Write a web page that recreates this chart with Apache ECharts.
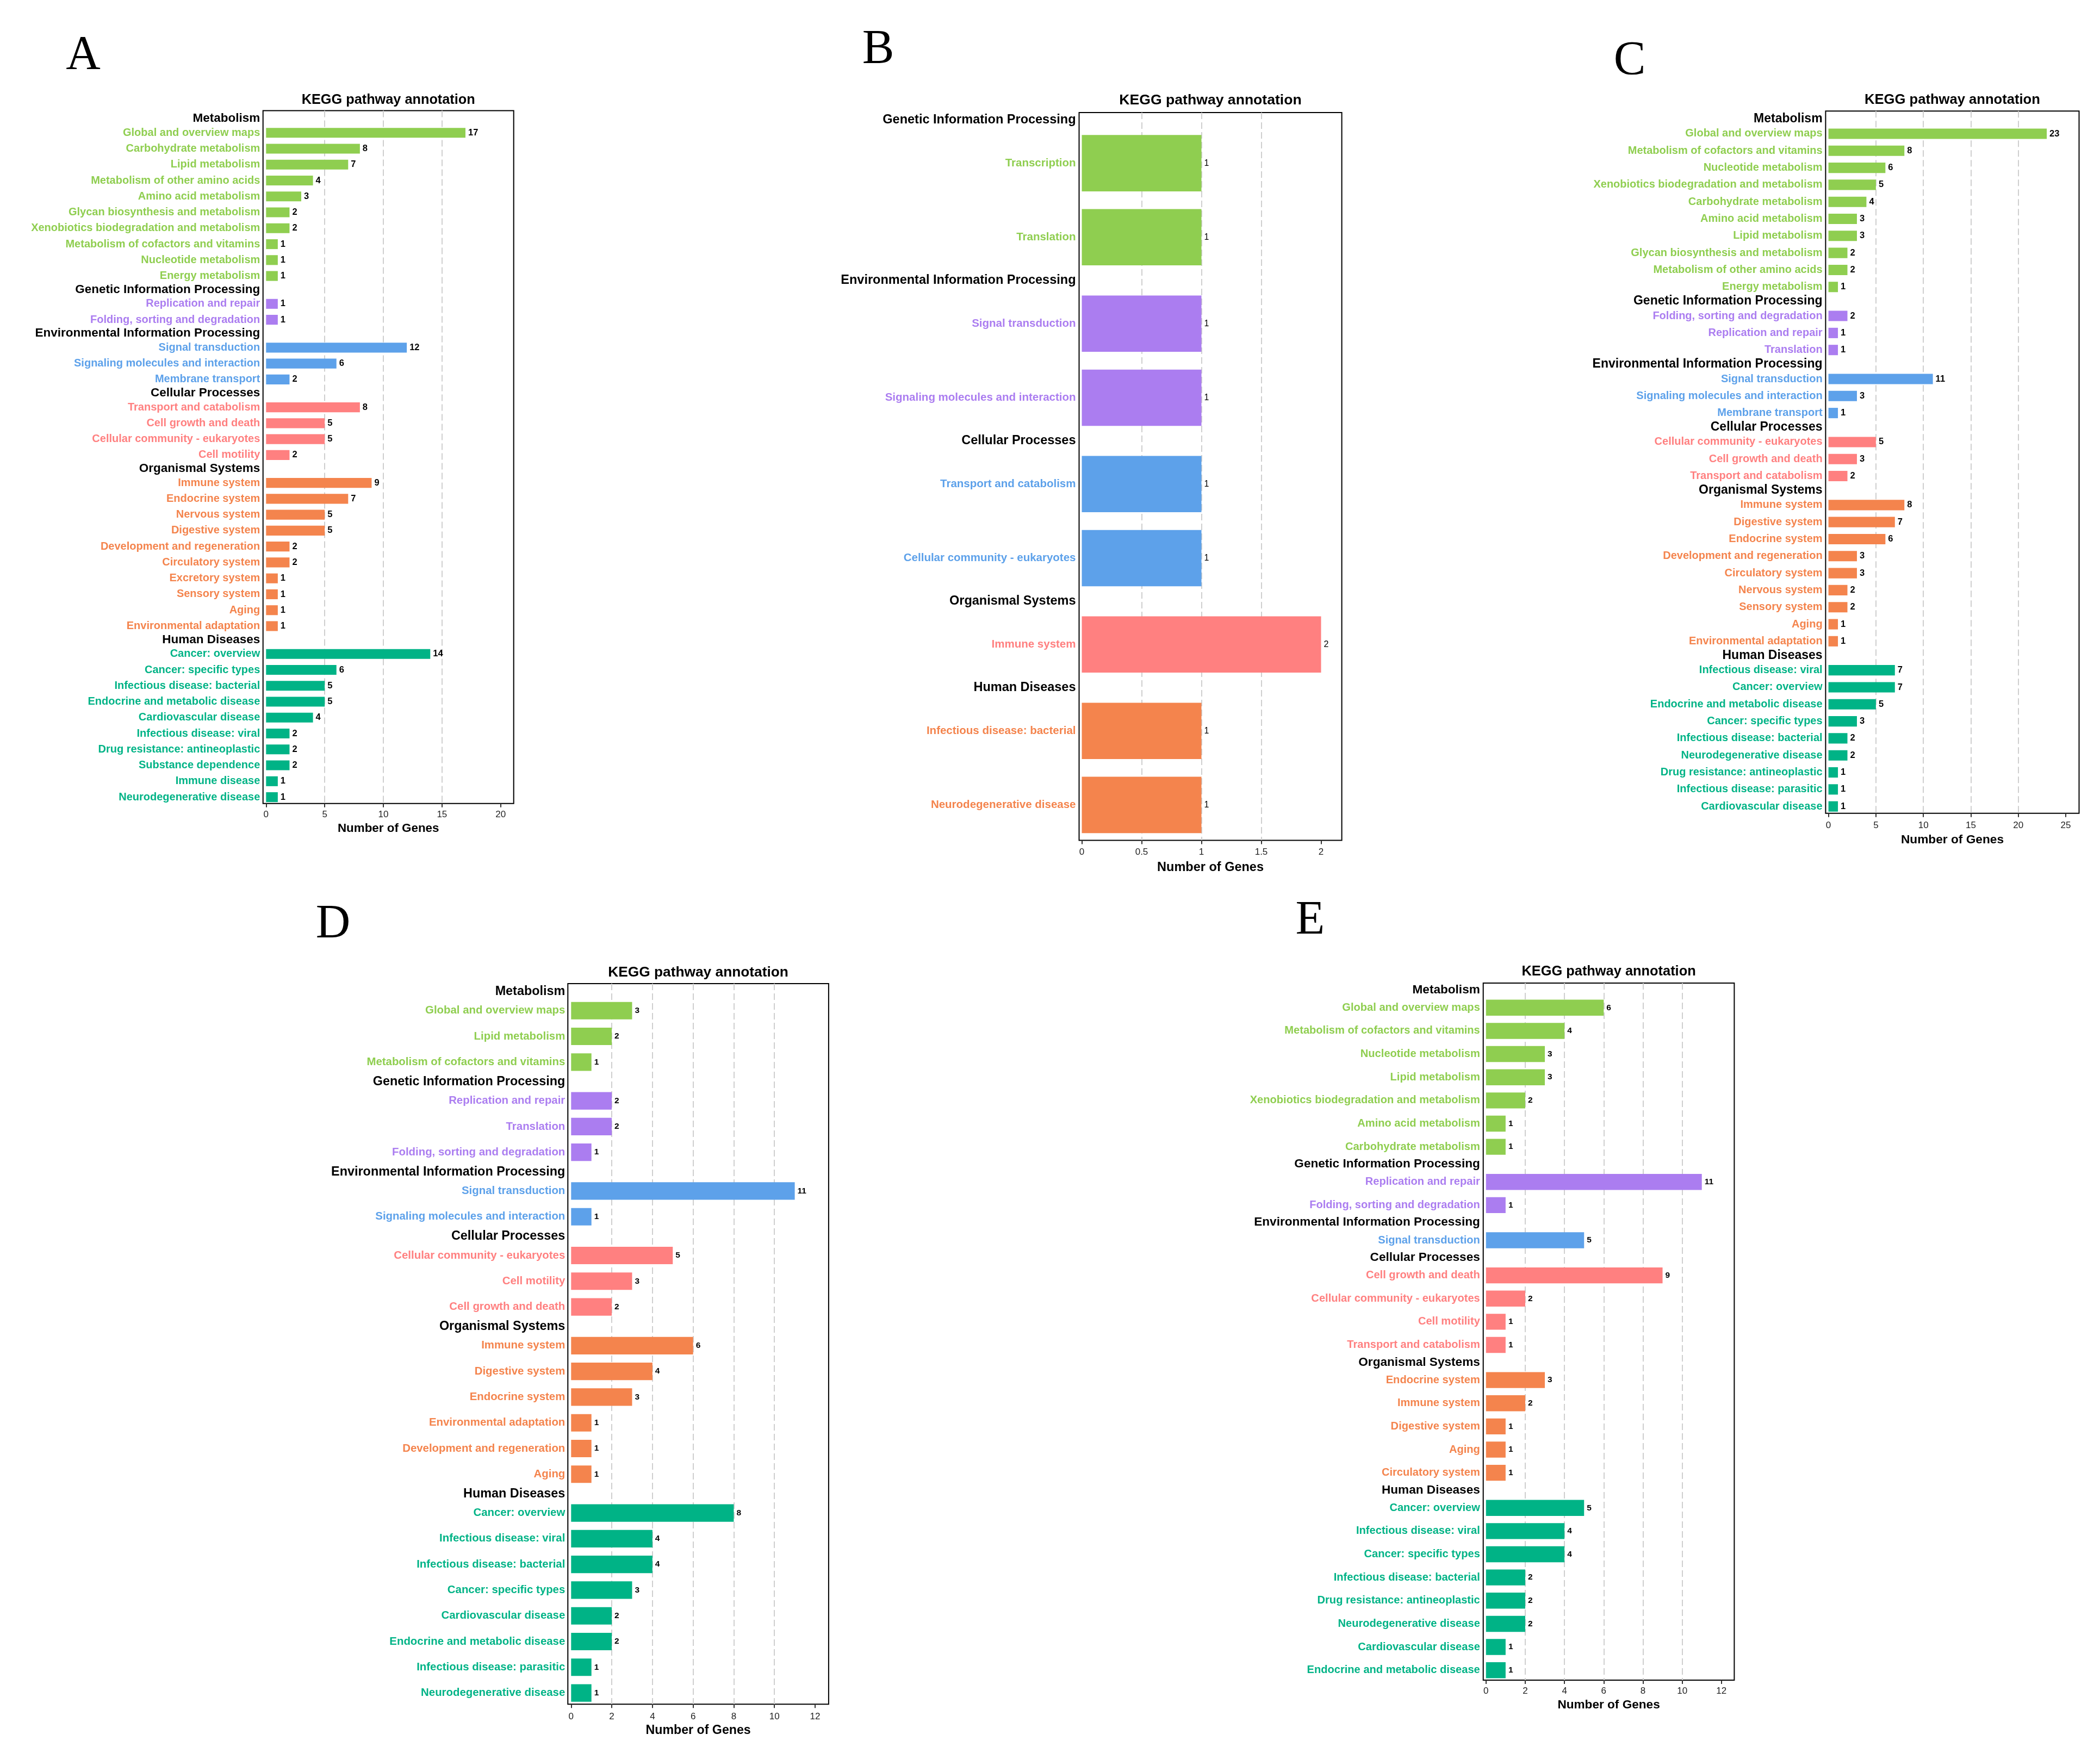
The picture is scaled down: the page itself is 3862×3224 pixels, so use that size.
<!DOCTYPE html>
<html>
<head>
<meta charset="utf-8">
<script src="https://cdn.jsdelivr.net/npm/echarts@6/dist/echarts.min.js"></script>
<style>
  html, body { margin: 0; padding: 0; background: #fff; }
  #chart { width: 3862px; height: 3224px; }
</style>
</head>
<body>
<div id="chart"></div>
<script>
var FONT = "'Liberation Sans', Arial, Helvetica, sans-serif";
var palette = ['#8fce50', '#ab7df0', '#5da1ea', '#ff8080', '#f4844d', '#00b386'];

// ---- A ----
var groupsA = ['Metabolism', 'Genetic Information Processing', 'Environmental Information Processing',
  'Cellular Processes', 'Organismal Systems', 'Human Diseases'];
var catsA = [
  ['Global and overview maps', 'Carbohydrate metabolism', 'Lipid metabolism', 'Metabolism of other amino acids',
   'Amino acid metabolism', 'Glycan biosynthesis and metabolism', 'Xenobiotics biodegradation and metabolism',
   'Metabolism of cofactors and vitamins', 'Nucleotide metabolism', 'Energy metabolism'],
  ['Replication and repair', 'Folding, sorting and degradation'],
  ['Signal transduction', 'Signaling molecules and interaction', 'Membrane transport'],
  ['Transport and catabolism', 'Cell growth and death', 'Cellular community - eukaryotes', 'Cell motility'],
  ['Immune system', 'Endocrine system', 'Nervous system', 'Digestive system', 'Development and regeneration',
   'Circulatory system', 'Excretory system', 'Sensory system', 'Aging', 'Environmental adaptation'],
  ['Cancer: overview', 'Cancer: specific types', 'Infectious disease: bacterial', 'Endocrine and metabolic disease',
   'Cardiovascular disease', 'Infectious disease: viral', 'Drug resistance: antineoplastic', 'Substance dependence',
   'Immune disease', 'Neurodegenerative disease']
];
var valsA = [[17, 8, 7, 4, 3, 2, 2, 1, 1, 1], [1, 1], [12, 6, 2], [8, 5, 5, 2],
  [9, 7, 5, 5, 2, 2, 1, 1, 1, 1], [14, 6, 5, 5, 4, 2, 2, 2, 1, 1]];
var ticksA = [0, 5, 10, 15, 20];

// ---- B ----
var groupsB = ['Genetic Information Processing', 'Environmental Information Processing', 'Cellular Processes',
  'Organismal Systems', 'Human Diseases'];
var catsB = [
  ['Transcription', 'Translation'],
  ['Signal transduction', 'Signaling molecules and interaction'],
  ['Transport and catabolism', 'Cellular community - eukaryotes'],
  ['Immune system'],
  ['Infectious disease: bacterial', 'Neurodegenerative disease']
];
var valsB = [[1, 1], [1, 1], [1, 1], [2], [1, 1]];
var ticksB = [0, 0.5, 1, 1.5, 2];

// ---- C ----
var groupsC = groupsA;
var catsC = [
  ['Global and overview maps', 'Metabolism of cofactors and vitamins', 'Nucleotide metabolism',
   'Xenobiotics biodegradation and metabolism', 'Carbohydrate metabolism', 'Amino acid metabolism',
   'Lipid metabolism', 'Glycan biosynthesis and metabolism', 'Metabolism of other amino acids', 'Energy metabolism'],
  ['Folding, sorting and degradation', 'Replication and repair', 'Translation'],
  ['Signal transduction', 'Signaling molecules and interaction', 'Membrane transport'],
  ['Cellular community - eukaryotes', 'Cell growth and death', 'Transport and catabolism'],
  ['Immune system', 'Digestive system', 'Endocrine system', 'Development and regeneration', 'Circulatory system',
   'Nervous system', 'Sensory system', 'Aging', 'Environmental adaptation'],
  ['Infectious disease: viral', 'Cancer: overview', 'Endocrine and metabolic disease', 'Cancer: specific types',
   'Infectious disease: bacterial', 'Neurodegenerative disease', 'Drug resistance: antineoplastic',
   'Infectious disease: parasitic', 'Cardiovascular disease']
];
var valsC = [[23, 8, 6, 5, 4, 3, 3, 2, 2, 1], [2, 1, 1], [11, 3, 1], [5, 3, 2],
  [8, 7, 6, 3, 3, 2, 2, 1, 1], [7, 7, 5, 3, 2, 2, 1, 1, 1]];
var ticksC = [0, 5, 10, 15, 20, 25];

// ---- D ----
var groupsD = groupsA;
var catsD = [
  ['Global and overview maps', 'Lipid metabolism', 'Metabolism of cofactors and vitamins'],
  ['Replication and repair', 'Translation', 'Folding, sorting and degradation'],
  ['Signal transduction', 'Signaling molecules and interaction'],
  ['Cellular community - eukaryotes', 'Cell motility', 'Cell growth and death'],
  ['Immune system', 'Digestive system', 'Endocrine system', 'Environmental adaptation',
   'Development and regeneration', 'Aging'],
  ['Cancer: overview', 'Infectious disease: viral', 'Infectious disease: bacterial', 'Cancer: specific types',
   'Cardiovascular disease', 'Endocrine and metabolic disease', 'Infectious disease: parasitic',
   'Neurodegenerative disease']
];
var valsD = [[3, 2, 1], [2, 2, 1], [11, 1], [5, 3, 2], [6, 4, 3, 1, 1, 1], [8, 4, 4, 3, 2, 2, 1, 1]];
var ticksD = [0, 2, 4, 6, 8, 10, 12];

// ---- E ----
var groupsE = groupsA;
var catsE = [
  ['Global and overview maps', 'Metabolism of cofactors and vitamins', 'Nucleotide metabolism', 'Lipid metabolism',
   'Xenobiotics biodegradation and metabolism', 'Amino acid metabolism', 'Carbohydrate metabolism'],
  ['Replication and repair', 'Folding, sorting and degradation'],
  ['Signal transduction'],
  ['Cell growth and death', 'Cellular community - eukaryotes', 'Cell motility', 'Transport and catabolism'],
  ['Endocrine system', 'Immune system', 'Digestive system', 'Aging', 'Circulatory system'],
  ['Cancer: overview', 'Infectious disease: viral', 'Cancer: specific types', 'Infectious disease: bacterial',
   'Drug resistance: antineoplastic', 'Neurodegenerative disease', 'Cardiovascular disease',
   'Endocrine and metabolic disease']
];
var valsE = [[6, 4, 3, 3, 2, 1, 1], [11, 1], [5], [9, 2, 1, 1], [3, 2, 1, 1, 1], [5, 4, 4, 2, 2, 2, 1, 1]];
var ticksE = [0, 2, 4, 6, 8, 10, 12];

var title = 'KEGG pathway annotation';
var xName = 'Number of Genes';

// page layout (pixels)
var panels = [
  { letter: 'A', lx: 153, ly: 103, groups: groupsA, cats: catsA, vals: valsA, ticks: ticksA,
    box: [483.7, 203.6, 944.7, 1477.7], x0: 489.3, x1: 920.7, topGap: 26, bottomGap: -3, gap: 22, barGap: '38%',
    fLabel: 20, fHead: 22.5, fTitle: 25.3, fName: 22.4, fVal: 16.5, valBold: true,
    titleGap: 7.5, nameGap: 35, tickMargin: 12 },
  { letter: 'B', lx: 1615, ly: 92, groups: groupsB, cats: catsB, vals: valsB, ticks: ticksB,
    box: [1984.5, 207, 2467.6, 1545.5], x0: 1989.5, x1: 2429.5, topGap: 25, bottomGap: -3, gap: 22.6, barGap: '24%',
    fLabel: 20.5, fHead: 23.5, fTitle: 26.6, fName: 23.5, fVal: 16, valBold: false,
    titleGap: 8.7, nameGap: 37.9, tickMargin: 13.7 },
  { letter: 'C', lx: 2997, ly: 113, groups: groupsC, cats: catsC, vals: valsC, ticks: ticksC,
    box: [3357.4, 204.3, 3823.5, 1495.8], x0: 3362.6, x1: 3799, topGap: 26, bottomGap: -3, gap: 22, barGap: '39%',
    fLabel: 20, fHead: 23, fTitle: 25.6, fName: 22.7, fVal: 16.5, valBold: true,
    titleGap: 6.9, nameGap: 37.1, tickMargin: 13.6 },
  { letter: 'D', lx: 612.5, ly: 1701, groups: groupsD, cats: catsD, vals: valsD, ticks: ticksD,
    box: [1044.3, 1809.1, 1523.9, 3134.2], x0: 1050.3, x1: 1499, topGap: 26, bottomGap: -3, gap: 24, barGap: '32%',
    fLabel: 20.4, fHead: 23.4, fTitle: 26.3, fName: 23.2, fVal: 15.5, valBold: true,
    titleGap: 7.6, nameGap: 37.3, tickMargin: 14.4 },
  { letter: 'E', lx: 2409.4, ly: 1694, groups: groupsE, cats: catsE, vals: valsE, ticks: ticksE,
    box: [2727.7, 1808, 3189.4, 3090], x0: 2732.8, x1: 3165.8, topGap: 24, bottomGap: -3, gap: 22, barGap: '31%',
    fLabel: 20.1, fHead: 22.6, fTitle: 25.4, fName: 22.6, fVal: 15.5, valBold: true,
    titleGap: 8.1, nameGap: 34, tickMargin: 11.8 }
];

var option = {
  animation: false,
  backgroundColor: '#fff',
  textStyle: { fontFamily: FONT },
  grid: [], xAxis: [], yAxis: [], series: [],
  graphic: { elements: [] }
};

function hidden() {
  return { axisLine: { show: false }, axisTick: { show: false }, axisLabel: { show: false }, splitLine: { show: false } };
}

function addPanel(p) {
  var L = p.box[0], T = p.box[1], R = p.box[2], B = p.box[3];
  var H = B - T;
  var n = 0;
  p.cats.forEach(function (c) { n += c.length; });
  var slot = (H - p.topGap - p.bottomGap - (p.cats.length - 1) * p.gap) / n;
  var tMax = p.ticks[p.ticks.length - 1];
  var tInt = p.ticks[1] - p.ticks[0];

  // frame with title and axis name
  var gi = option.grid.length;
  option.grid.push({ left: L, top: T, width: R - L, height: H, show: true, borderColor: '#000', borderWidth: 2,
    backgroundColor: 'rgba(0,0,0,0)', outerBoundsMode: 'none' });
  option.xAxis.push(Object.assign(hidden(), { gridIndex: gi, type: 'value', min: 0, max: 1, position: 'bottom',
    name: xName, nameLocation: 'middle', nameGap: p.nameGap, nameMoveOverlap: false,
    nameTextStyle: { fontFamily: FONT, fontSize: p.fName, fontWeight: 'bold', color: '#000', verticalAlign: 'top' } }));
  option.xAxis.push(Object.assign(hidden(), { gridIndex: gi, type: 'value', min: 0, max: 1, position: 'top',
    name: title, nameLocation: 'middle', nameGap: p.titleGap, nameMoveOverlap: false,
    nameTextStyle: { fontFamily: FONT, fontSize: p.fTitle, fontWeight: 'bold', color: '#000', verticalAlign: 'bottom' } }));
  option.yAxis.push({ gridIndex: gi, type: 'value', show: false });

  // value axis: ticks, labels, dashed guide lines
  gi = option.grid.length;
  option.grid.push({ left: p.x0, top: T, width: p.x1 - p.x0, height: H, outerBoundsMode: 'none' });
  option.xAxis.push({ gridIndex: gi, type: 'value', min: 0, max: tMax, interval: tInt,
    axisLine: { show: false },
    axisTick: { show: true, length: 7, lineStyle: { color: '#333', width: 2 } },
    axisLabel: { fontFamily: FONT, fontSize: 17, color: '#222', margin: p.tickMargin },
    splitLine: { show: true, showMinLine: false, showMaxLine: false,
      lineStyle: { type: [12, 6], color: '#cfcfcf', width: 2 } } });
  option.yAxis.push({ gridIndex: gi, type: 'value', show: false });

  // one facet per KEGG class
  var top = T + p.topGap;
  p.cats.forEach(function (cats, g) {
    var h = cats.length * slot;
    var col = palette[g];
    var idx = option.grid.length;
    option.grid.push({ left: p.x0, top: top, width: p.x1 - p.x0, height: h, outerBoundsMode: 'none' });
    option.xAxis.push(Object.assign(hidden(), { gridIndex: idx, type: 'value', min: 0, max: tMax, show: false }));
    var yi = option.yAxis.length;
    option.yAxis.push({
      gridIndex: idx, type: 'category', data: cats, inverse: true,
      axisLine: { show: false }, axisTick: { show: false }, splitLine: { show: false },
      axisLabel: { interval: 0, margin: 11, color: col, fontFamily: FONT, fontSize: p.fLabel, fontWeight: 'bold' },
      name: p.groups[g], nameLocation: 'start', nameGap: 11.5, nameMoveOverlap: false,
      nameTextStyle: { fontFamily: FONT, fontSize: p.fHead, fontWeight: 'bold', color: '#000',
        align: 'right', verticalAlign: 'middle', padding: [0, 11, 0, 0] }
    });
    option.series.push({
      type: 'bar', xAxisIndex: option.xAxis.length - 1, yAxisIndex: yi,
      data: p.vals[g], barCategoryGap: p.barGap, silent: true,
      itemStyle: { color: col },
      label: { show: true, position: 'right', distance: 5, color: '#000', fontFamily: FONT,
        fontSize: p.fVal, fontWeight: p.valBold ? 'bold' : 'normal', textBorderWidth: 0 }
    });
    top += h + p.gap;
  });

  option.graphic.elements.push({
    type: 'text', x: p.lx, y: p.ly, silent: true,
    style: { text: p.letter, fill: '#000', fontSize: 88, fontFamily: "'Liberation Serif', 'Times New Roman', serif",
      align: 'center', verticalAlign: 'middle' }
  });
}

panels.forEach(addPanel);

var chart = echarts.init(document.getElementById('chart'));
chart.setOption(option);
</script>
</body>
</html>
